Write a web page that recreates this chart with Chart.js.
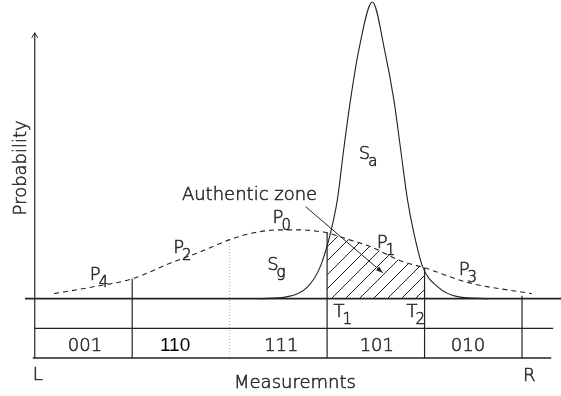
<!DOCTYPE html>
<html>
<head>
<meta charset="utf-8">
<script src="https://cdn.jsdelivr.net/npm/chart.js@4.4.0/dist/chart.umd.min.js"></script>
<style>
  html, body { margin: 0; padding: 0; background: #fff; }
  #wrap { width: 561px; height: 396px; position: relative; }
</style>
</head>
<body>
<div id="wrap"><canvas id="grafico"></canvas></div>
<script>
// curva ancha (punteada) - S_g
const dashedX = [0.4, 1.1, 2.0, 2.8, 3.4, 4.0, 4.5, 5.0, 5.45, 5.85, 6.0, 6.45, 6.9, 7.5, 8.0, 8.9, 10.2];
const dashedY = [0.017, 0.037, 0.067, 0.121, 0.158, 0.199, 0.222, 0.232, 0.232, 0.226, 0.222, 0.199, 0.175, 0.128, 0.104, 0.054, 0.017];

// curva angosta (continua) - S_a
const solidX = [4.6, 5.19, 5.6, 5.86, 6.07, 6.21, 6.34, 6.48, 6.65, 6.93, 7.18, 7.37, 7.51, 7.65, 7.78, 7.96, 8.27, 8.68, 9.3];
const solidY = [0, 0.007, 0.040, 0.108, 0.222, 0.333, 0.502, 0.670, 0.838, 1.0, 0.838, 0.670, 0.502, 0.333, 0.222, 0.108, 0.040, 0.007, 0];

// limites de la tabla y altura de cada linea vertical
const bounds = [2, 4, 6, 8, 10];
const boundTops = [0.067, 0.199, 0.222, 0.104, 0.01];
const codes = ['001', '110', '111', '101', '010'];
const codeX = [1.03, 2.88, 5.06, 7.02, 8.89];
const rowLines = [0, -0.1, -0.2];

// zona autentica entre T1 y T2
const T1 = 6, T2 = 8;

const INK = '#222';
const FONT = '"DejaVu Sans", sans-serif';

const canvas = document.getElementById('grafico');
const ctx = canvas.getContext('2d');

function rayado() {
    const c = document.createElement('canvas');
    c.width = 14; c.height = 14;
    const g = c.getContext('2d');
    g.strokeStyle = INK;
    g.lineWidth = 1;
    g.beginPath();
    g.moveTo(0, 14); g.lineTo(14, 0);
    g.moveTo(-7, 7); g.lineTo(7, -7);
    g.moveTo(7, 21); g.lineTo(21, 7);
    g.stroke();
    return ctx.createPattern(c, 'repeat');
}

const pts = (xs, ys) => xs.map((x, i) => ({ x: x, y: ys[i] }));
const zona = pts(dashedX, dashedY).filter(p => p.x >= T1 && p.x <= T2);

function segmento(a, b, extra) {
    return Object.assign({ data: [a, b], borderColor: INK, borderWidth: 1.2, pointRadius: 0, fill: false, clip: false, tension: 0 }, extra || {});
}

const datasets = [
    { data: zona, borderWidth: 0, pointRadius: 0, fill: 'origin', backgroundColor: rayado(), cubicInterpolationMode: 'monotone', clip: false },
    { data: pts(solidX, solidY), borderColor: INK, borderWidth: 1.1, pointRadius: 0, fill: false, cubicInterpolationMode: 'monotone', clip: false },
    { data: pts(dashedX, dashedY), borderColor: INK, borderWidth: 1.1, borderDash: [5, 4], pointRadius: 0, fill: false, cubicInterpolationMode: 'monotone', clip: false },
    // ejes
    segmento({ x: -0.2, y: 0 }, { x: 10.8, y: 0 }, { borderWidth: 1.6 }),
    segmento({ x: 0, y: -0.2 }, { x: 0, y: 0.896 }),
    segmento({ x: 0, y: rowLines[1] }, { x: 10.64, y: rowLines[1] }),
    segmento({ x: -0.04, y: rowLines[2] }, { x: 10.6, y: rowLines[2] }, { borderWidth: 1.4 })
];
bounds.forEach((b, i) => {
    const extra = (b === 4) ? { borderColor: '#aaa', borderDash: [1, 2], borderWidth: 1 } : {};
    datasets.push(segmento({ x: b, y: -0.2 }, { x: b, y: boundTops[i] }, extra));
});

// etiquetas con subindice
const etiquetas = [
    { t: 'P', s: '0', x: 4.88, y: 0.256 },
    { t: 'P', s: '1', x: 7.02, y: 0.172 },
    { t: 'P', s: '2', x: 2.84, y: 0.155 },
    { t: 'P', s: '3', x: 8.70, y: 0.081 },
    { t: 'P', s: '4', x: 1.13, y: 0.064 },
    { t: 'S', s: 'a', x: 6.65, y: 0.471 },
    { t: 'S', s: 'g', x: 4.77, y: 0.098 },
    { t: 'T', s: '1', x: 6.13, y: -0.061 },
    { t: 'T', s: '2', x: 7.63, y: -0.061 }
];

// texto fino con un trazo leve para engrosarlo
function escribir(c, txt, x, y) {
    c.fillText(txt, x, y);
    c.strokeText(txt, x, y);
}

const textos = {
    id: 'textos',
    afterDatasetsDraw(chart) {
        const c = chart.ctx;
        const sx = chart.scales.x, sy = chart.scales.y;
        const X = v => sx.getPixelForValue(v), Y = v => sy.getPixelForValue(v);
        c.save();
        c.strokeStyle = INK;
        c.textBaseline = 'alphabetic';

        // flecha del eje Y
        c.lineWidth = 1;
        c.beginPath();
        c.moveTo(X(0) - 3, Y(0.896) + 5); c.lineTo(X(0), Y(0.896)); c.lineTo(X(0) + 3, Y(0.896) + 5);
        c.stroke();

        // flecha de "Authentic zone"
        const x1 = X(5.56), y1 = Y(0.310), x2 = X(7.14), y2 = Y(0.0875);
        c.beginPath(); c.moveTo(x1, y1); c.lineTo(x2, y2); c.stroke();
        const ang = Math.atan2(y2 - y1, x2 - x1);
        c.fillStyle = INK;
        c.beginPath();
        c.moveTo(x2, y2);
        c.lineTo(x2 - 7 * Math.cos(ang - 0.35), y2 - 7 * Math.sin(ang - 0.35));
        c.lineTo(x2 - 7 * Math.cos(ang + 0.35), y2 - 7 * Math.sin(ang + 0.35));
        c.closePath(); c.fill();

        c.fillStyle = '#2a2a2a';
        c.strokeStyle = '#2a2a2a';
        c.lineWidth = 0.55;

        etiquetas.forEach(e => {
            c.font = '200 18px ' + FONT;
            c.textAlign = 'left';
            escribir(c, e.t, X(e.x), Y(e.y));
            const w = c.measureText(e.t).width;
            c.font = '200 15px ' + FONT;
            escribir(c, e.s, X(e.x) + w - 2, Y(e.y) + 7);
        });

        c.font = '200 18px ' + FONT;
        escribir(c, 'Authentic zone', X(3.02), Y(0.333));
        escribir(c, 'L', X(-0.04), Y(-0.273));
        escribir(c, 'R', X(10.02), Y(-0.279));
        c.textAlign = 'center';
        escribir(c, 'Measuremnts', X(5.34), Y(-0.30));

        codes.forEach((cd, i) => {
            if (cd === '110') {
                c.font = '19px "Liberation Sans", Arial, sans-serif';
                c.fillStyle = '#000';
                c.fillText(cd, X(codeX[i]), Y(-0.175));
                c.fillStyle = '#2a2a2a';
            } else {
                c.font = '200 18px ' + FONT;
                escribir(c, cd, X(codeX[i]), Y(-0.175));
            }
        });

        c.font = '200 18px ' + FONT;
        c.save();
        c.translate(X(-0.185), Y(0.441));
        c.rotate(-Math.PI / 2);
        escribir(c, 'Probability', 0, 0);
        c.restore();

        c.restore();
    }
};

new Chart(ctx, {
    type: 'line',
    data: { datasets: datasets },
    options: {
        responsive: true,
        maintainAspectRatio: false,
        animation: false,
        layout: { padding: { left: 25, right: 0, top: 2, bottom: 38 } },
        plugins: { legend: { display: false }, tooltip: { enabled: false } },
        scales: {
            x: { type: 'linear', min: -0.2, max: 10.8, display: false },
            y: { type: 'linear', min: -0.2, max: 1.0, display: false }
        }
    },
    plugins: [textos]
});
</script>
</body>
</html>
